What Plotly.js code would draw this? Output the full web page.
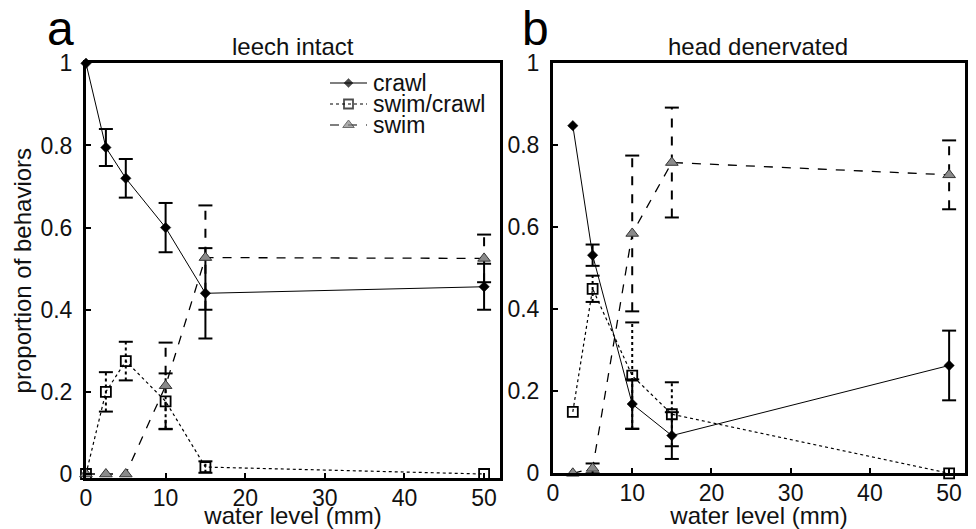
<!DOCTYPE html>
<html>
<head>
<meta charset="utf-8">
<script src="https://cdn.plot.ly/plotly-3.0.1.min.js"></script>
<style>html,body{margin:0;padding:0;background:#fff;}#chart{width:976px;height:529px;}</style>
</head>
<body>
<div id="chart"></div>
<script>
// ---- data ----
const seriesNames = ["crawl", "swim/crawl", "swim"];

// panel a: leech intact
const waterA = [0, 2.5, 5, 10, 15, 50];
const crawlA = [1.0, 0.795, 0.72, 0.60, 0.44, 0.456];
const crawlAErr = [null, 0.045, 0.047, 0.06, 0.11, 0.056];
const swimCrawlA = [0, 0.20, 0.275, 0.177, 0.017, 0.0];
const swimCrawlAErr = [null, 0.048, 0.047, 0.068, 0.014, null];
const swimA = [0, 0, 0, 0.215, 0.527, 0.525];
const swimAErr = [null, null, null, 0.105, 0.127, 0.058];

// panel b: head denervated
const waterB = [2.5, 5, 10, 15, 50];
const crawlB = [0.848, 0.532, 0.169, 0.092, 0.263];
const crawlBErr = [null, 0.026, 0.06, 0.057, 0.085];
const swimCrawlB = [0.15, 0.45, 0.238, 0.144, 0];
const swimCrawlBErr = [null, 0.032, 0.13, 0.078, null];
const swimB = [0, 0.012, 0.585, 0.758, 0.728];
const swimBErr = [null, 0.012, 0.19, 0.134, 0.084];

const panelTitles = ["leech intact", "head denervated"];
const panelLetters = ["a", "b"];
const yTicks = [0, 0.2, 0.4, 0.6, 0.8, 1];
const yTickText = ["0", "0.2", "0.4", "0.6", "0.8", "1"];
const xTicks = [0, 10, 20, 30, 40, 50];

// ---- styles ----
const FONT = "Liberation Sans, Arial, sans-serif";
const TXT = "#111";
const styles = [
  {line: {color: "#000", width: 1, dash: "solid"},
   marker: {symbol: "diamond", size: 8, color: "#000", line: {color: "#000", width: 0.5}},
   err: {color: "#000", width: 2, dash: "solid"}},
  {line: {color: "#000", width: 1.2, dash: "dot"},
   marker: {symbol: "square-open", size: 10, color: "#000", line: {color: "#000", width: 1.8}},
   err: {color: "#000", width: 2, dash: "dot"}},
  {line: {color: "#000", width: 1.3, dash: "dash"},
   marker: {symbol: "triangle-up", size: 11, color: "#8a8a8a", line: {color: "#333", width: 1}},
   err: {color: "#000", width: 2, dash: "dash"}}
];

function errTrace(x, y, e, st, xa, ya) {
  const ex = [], ey = [];
  for (let i = 0; i < x.length; i++) {
    if (e[i] === null) continue;
    ex.push(x[i], x[i], null);
    ey.push(y[i] - e[i], y[i] + e[i], null);
  }
  return {x: ex, y: ey, xaxis: xa, yaxis: ya, type: "scatter", mode: "lines+markers",
    line: st.err, marker: {symbol: "line-ew-open", size: 10, color: "#000", line: {color: "#000", width: 2}},
    showlegend: false, hoverinfo: "skip", cliponaxis: false, connectgaps: false};
}
function mainTrace(x, y, k, xa, ya) {
  return {x: x, y: y, name: seriesNames[k], xaxis: xa, yaxis: ya, type: "scatter",
    mode: "lines+markers", line: styles[k].line, marker: styles[k].marker,
    showlegend: false, cliponaxis: false};
}
// legend sample (drawn on its own hidden axis pair, one row per series)
function legendSample(k) {
  const m = Object.assign({}, styles[k].marker, {size: [0, styles[k].marker.size - 1, 0]});
  return {x: [0, 0.5, 1], y: [k, k, k], xaxis: "x3", yaxis: "y3", type: "scatter",
    mode: "lines+markers", line: Object.assign({}, styles[k].line, {width: 1.2}), marker: m,
    showlegend: false, hoverinfo: "skip", cliponaxis: false};
}

const panelA = [[crawlA, crawlAErr], [swimCrawlA, swimCrawlAErr], [swimA, swimAErr]];
const panelB = [[crawlB, crawlBErr], [swimCrawlB, swimCrawlBErr], [swimB, swimBErr]];

const traces = [];
panelA.forEach((s, k) => traces.push(errTrace(waterA, s[0], s[1], styles[k], "x", "y")));
panelB.forEach((s, k) => traces.push(errTrace(waterB, s[0], s[1], styles[k], "x2", "y2")));
panelA.forEach((s, k) => traces.push(mainTrace(waterA, s[0], k, "x", "y")));
panelB.forEach((s, k) => traces.push(mainTrace(waterB, s[0], k, "x2", "y2")));
seriesNames.forEach((n, k) => traces.push(legendSample(k)));

function xAxis(domain, anchor) {
  return {domain: domain, anchor: anchor, range: [0, 52], tickvals: xTicks,
    ticks: "inside", ticklen: 5, tickwidth: 2, tickcolor: "#000",
    showline: true, linewidth: 3, linecolor: "#000", mirror: true,
    showgrid: false, zeroline: false, ticklabelstandoff: -3,
    tickfont: {family: FONT, size: 23, color: TXT},
    title: {text: "water level (mm)", font: {family: FONT, size: 24, color: TXT}, standoff: 2}};
}
function yAxis(domain, anchor, range, title) {
  const a = {domain: domain, anchor: anchor, range: range, tickvals: yTicks, ticktext: yTickText,
    ticks: "inside", ticklen: 5, tickwidth: 2, tickcolor: "#000",
    showline: true, linewidth: 3, linecolor: "#000", mirror: true,
    showgrid: false, zeroline: false, ticklabelstandoff: 6,
    tickfont: {family: FONT, size: 23, color: TXT}};
  if (title) a.title = {text: title, font: {family: FONT, size: 24, color: TXT}, standoff: 2};
  return a;
}

const annotations = [
  {text: panelTitles[0], x: 0.3, y: 1 - 47 / 529, xref: "paper", yref: "paper", showarrow: false,
   xanchor: "center", yanchor: "middle", font: {family: FONT, size: 24, color: TXT}},
  {text: panelTitles[1], x: 0.777, y: 1 - 47 / 529, xref: "paper", yref: "paper", showarrow: false,
   xanchor: "center", yanchor: "middle", font: {family: FONT, size: 24, color: TXT}},
  {text: panelLetters[0], x: 60 / 976, y: 1 - 29 / 529, xref: "paper", yref: "paper", showarrow: false,
   xanchor: "center", yanchor: "middle", font: {family: FONT, size: 48, color: "#000"}},
  {text: panelLetters[1], x: 535 / 976, y: 1 - 29 / 529, xref: "paper", yref: "paper", showarrow: false,
   xanchor: "center", yanchor: "middle", font: {family: FONT, size: 48, color: "#000"}}
];
seriesNames.forEach((n, k) => annotations.push({
  text: n, x: 0, y: k, xref: "x3", yref: "y3", xshift: 41, showarrow: false,
  xanchor: "left", yanchor: "middle", font: {family: FONT, size: 23, color: TXT}}));

const layout = {
  width: 976, height: 529,
  margin: {l: 0, r: 0, t: 0, b: 0},
  paper_bgcolor: "#fff", plot_bgcolor: "rgba(0,0,0,0)",
  showlegend: false,
  xaxis: xAxis([0.0881, 0.5123], "y"),
  yaxis: yAxis([0.0964, 0.8803], "x", [-0.0097, 1], "proportion of behaviors"),
  xaxis2: xAxis([0.5666, 0.9887], "y2"),
  yaxis2: yAxis([0.1053, 0.8803], "x2", [0, 1], null),
  xaxis3: {domain: [330 / 976, 367 / 976], anchor: "y3", range: [0, 1], visible: false, fixedrange: true},
  yaxis3: {domain: [1 - 135.5 / 529, 1 - 72.5 / 529], anchor: "x3", range: [2.5, -0.5], visible: false, fixedrange: true},
  annotations: annotations
};

Plotly.newPlot("chart", traces, layout, {displayModeBar: false, staticPlot: true});
</script>
</body>
</html>
